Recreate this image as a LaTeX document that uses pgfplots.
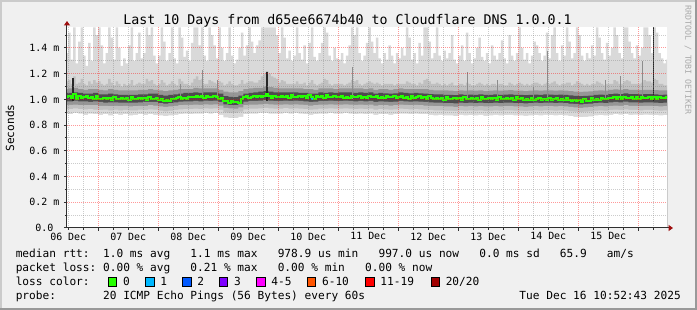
\documentclass[border=0pt]{standalone}
\usepackage{fontspec}
\setmainfont{DejaVu Sans Mono}
\usepackage{pgfplots}
\usepackage{pgfplotstable}
\pgfplotsset{compat=1.18}
\usetikzlibrary{arrows.meta}
\definecolor{bg}{HTML}{F0F0F0}
\definecolor{shadea}{HTML}{CBCBCB}
\definecolor{shadeb}{HTML}{999999}
\definecolor{axiscol}{HTML}{303030}
\definecolor{arrowred}{HTML}{A01010}
\definecolor{sA}{HTML}{D9D9D9}
\definecolor{sB}{HTML}{C0C0C0}
\definecolor{sC}{HTML}{969696}
\definecolor{sD}{HTML}{4D4D4D}
\definecolor{medgreen}{HTML}{26FF00}
\definecolor{lA}{HTML}{00B8FF}
\definecolor{lB}{HTML}{0059FF}
\definecolor{lC}{HTML}{7E00FF}
\definecolor{lD}{HTML}{FF00FF}
\definecolor{lE}{HTML}{FF5500}
\definecolor{lF}{HTML}{FF0000}
\definecolor{lG}{HTML}{A10000}
\definecolor{wm}{HTML}{AAAAAA}

% hourly: upper light smoke, upper mid smoke, median (ms)
\pgfplotstableread{
h hi0 hi1 med
11 1.36 1.14 1.015
12 1.52 1.15 1.023
13 1.31 1.12 1.010
14 1.56 1.18 1.04
15 1.28 1.12 1.007
16 1.45 1.13 1.025
17 1.56 1.16 1.012
18 1.34 1.12 1.015
19 1.26 1.11 1.023
20 1.44 1.14 1.010
21 1.30 1.12 1.019
22 1.56 1.15 1.007
23 1.50 1.13 1.025
24 1.56 1.14 1.002
25 1.42 1.12 1.005
26 1.28 1.11 1.013
27 1.36 1.12 1.000
28 1.56 1.16 1.009
29 1.48 1.13 0.997
30 1.31 1.11 1.015
31 1.56 1.14 1.002
32 1.40 1.12 1.005
33 1.26 1.10 1.013
34 1.32 1.12 1.000
35 1.28 1.11 1.009
36 1.42 1.12 0.997
37 1.56 1.15 1.015
38 1.30 1.11 1.002
39 1.36 1.12 1.005
40 1.52 1.13 1.013
41 1.32 1.12 1.000
42 1.36 1.12 1.009
43 1.56 1.16 0.997
44 1.50 1.14 1.015
45 1.56 1.15 1.002
46 1.34 1.12 1.005
47 1.28 1.11 1.013
48 1.34 1.12 0.995
49 1.56 1.15 1.003
50 1.45 1.13 0.990
51 1.30 1.11 0.999
52 1.36 1.12 0.987
53 1.56 1.14 1.005
54 1.32 1.12 1.007
55 1.28 1.11 1.010
56 1.56 1.16 1.018
57 1.48 1.14 1.005
58 1.33 1.12 1.014
59 1.38 1.12 1.002
60 1.30 1.11 1.020
61 1.44 1.13 1.017
62 1.56 1.16 1.020
63 1.56 1.18 1.028
64 1.42 1.15 1.015
65 1.56 1.16 1.024
66 1.34 1.12 1.012
67 1.30 1.12 1.030
68 1.56 1.15 1.017
69 1.50 1.14 1.020
70 1.42 1.13 1.028
71 1.32 1.12 1.015
72 1.56 1.14 1.005
73 1.40 1.13 1.013
74 1.30 1.11 0.990
75 1.36 1.12 0.984
76 1.56 1.14 0.972
77 1.34 1.12 0.985
78 1.28 1.11 0.977
79 1.31 1.11 0.983
80 1.40 1.12 0.976
81 1.52 1.15 1.000
82 1.34 1.12 1.015
83 1.42 1.13 1.024
84 1.56 1.14 1.012
85 1.45 1.14 1.020
86 1.36 1.13 1.028
87 1.42 1.13 1.015
88 1.46 1.15 1.024
89 1.56 1.18 1.020
90 1.56 1.20 1.028
91 1.56 1.22 1.045
92 1.56 1.20 1.024
93 1.56 1.18 1.012
94 1.56 1.17 1.030
95 1.50 1.16 1.017
96 1.36 1.13 1.022
97 1.56 1.15 1.030
98 1.48 1.14 1.017
99 1.32 1.12 1.026
100 1.38 1.12 1.014
101 1.30 1.12 1.032
102 1.34 1.12 1.019
103 1.56 1.14 1.022
104 1.36 1.12 1.030
105 1.31 1.12 1.017
106 1.42 1.13 1.026
107 1.28 1.11 1.014
108 1.44 1.13 1.032
109 1.56 1.15 1.019
110 1.33 1.12 1.005
111 1.30 1.11 1.030
112 1.36 1.12 1.017
113 1.44 1.13 1.026
114 1.56 1.16 1.014
115 1.52 1.15 1.032
116 1.34 1.12 1.019
117 1.30 1.11 1.022
118 1.40 1.12 1.030
119 1.32 1.12 1.017
120 1.31 1.12 1.018
121 1.36 1.12 1.026
122 1.28 1.11 1.013
123 1.34 1.12 1.022
124 1.42 1.13 1.010
125 1.56 1.15 1.028
126 1.50 1.14 1.015
127 1.56 1.15 1.018
128 1.36 1.12 1.026
129 1.30 1.11 1.013
130 1.34 1.12 1.022
131 1.44 1.13 1.010
132 1.56 1.14 1.028
133 1.45 1.13 1.015
134 1.36 1.12 1.018
135 1.48 1.13 1.026
136 1.32 1.12 1.013
137 1.28 1.11 1.022
138 1.36 1.12 1.010
139 1.31 1.12 1.028
140 1.42 1.12 1.015
141 1.34 1.12 1.018
142 1.28 1.11 1.026
143 1.36 1.12 1.013
144 1.32 1.12 1.015
145 1.40 1.12 1.023
146 1.34 1.12 1.010
147 1.56 1.14 1.019
148 1.48 1.13 1.007
149 1.31 1.12 1.025
150 1.36 1.12 1.012
151 1.28 1.11 1.015
152 1.44 1.13 1.023
153 1.34 1.12 1.010
154 1.56 1.15 1.019
155 1.56 1.16 1.007
156 1.45 1.14 1.025
157 1.32 1.12 1.012
158 1.36 1.12 1.005
159 1.56 1.13 1.013
160 1.34 1.12 1.000
161 1.30 1.11 1.009
162 1.38 1.12 0.997
163 1.32 1.11 1.015
164 1.36 1.12 1.002
165 1.50 1.13 1.005
166 1.31 1.11 1.013
167 1.28 1.11 1.000
168 1.34 1.12 1.009
169 1.42 1.12 0.997
170 1.30 1.11 1.015
171 1.52 1.13 1.002
172 1.36 1.12 1.005
173 1.28 1.11 1.013
174 1.32 1.11 1.000
175 1.40 1.12 1.009
176 1.48 1.13 0.997
177 1.33 1.12 1.015
178 1.30 1.11 1.002
179 1.36 1.12 1.005
180 1.28 1.11 1.013
181 1.42 1.12 1.000
182 1.34 1.12 1.009
183 1.31 1.11 0.997
184 1.36 1.12 1.015
185 1.46 1.12 1.002
186 1.32 1.11 1.005
187 1.28 1.11 1.013
188 1.50 1.13 1.000
189 1.34 1.12 1.009
190 1.30 1.11 0.997
191 1.36 1.12 1.015
192 1.56 1.13 1.000
193 1.40 1.12 1.008
194 1.31 1.11 0.995
195 1.36 1.12 1.004
196 1.28 1.11 0.992
197 1.34 1.12 1.010
198 1.45 1.13 0.997
199 1.42 1.13 1.000
200 1.36 1.12 1.008
201 1.30 1.11 0.995
202 1.34 1.12 1.004
203 1.52 1.13 0.992
204 1.32 1.12 1.010
205 1.50 1.13 0.997
206 1.56 1.14 1.000
207 1.36 1.12 1.008
208 1.30 1.11 0.995
209 1.42 1.12 1.004
210 1.34 1.12 0.992
211 1.56 1.13 1.010
212 1.45 1.13 0.997
213 1.32 1.11 0.990
214 1.36 1.12 0.998
215 1.56 1.14 0.985
216 1.50 1.13 0.994
217 1.34 1.12 0.982
218 1.30 1.11 1.000
219 1.36 1.12 0.987
220 1.32 1.11 0.990
221 1.42 1.12 1.011
222 1.34 1.12 0.998
223 1.56 1.14 1.007
224 1.48 1.13 0.995
225 1.36 1.12 1.013
226 1.31 1.11 1.000
227 1.44 1.12 1.003
228 1.34 1.12 1.011
229 1.40 1.12 1.012
230 1.56 1.15 1.020
231 1.50 1.14 1.007
232 1.36 1.12 1.016
233 1.32 1.12 1.004
234 1.56 1.14 1.022
235 1.56 1.15 1.009
236 1.45 1.14 1.012
237 1.36 1.12 1.020
238 1.32 1.12 1.007
239 1.42 1.12 1.016
240 1.34 1.12 1.004
241 1.40 1.13 1.022
242 1.56 1.15 1.009
243 1.56 1.14 1.012
244 1.50 1.14 1.020
245 1.36 1.13 1.007
246 1.56 1.16 1.016
247 1.52 1.15 1.004
248 1.36 1.12 1.022
249 1.32 1.12 1.009
250 1.28 1.11 1.012
251 1.31 1.11 1.020
252 1.31 1.11 1.020
}\Thour

% two-hourly: lower bounds and inner smoke bands
\pgfplotstableread{
h lo0 lo1 lo2 hi2 lo3 hi3
10 0.89 0.925 0.955 1.08 0.985 1.05
12 0.885 0.925 0.958 1.085 0.985 1.05
14 0.895 0.93 0.96 1.09 0.99 1.055
16 0.89 0.925 0.955 1.08 0.985 1.05
18 0.88 0.922 0.955 1.075 0.985 1.045
20 0.89 0.925 0.955 1.08 0.98 1.045
22 0.885 0.92 0.955 1.08 0.985 1.05
24 0.88 0.918 0.95 1.075 0.98 1.04
26 0.885 0.92 0.95 1.07 0.975 1.04
28 0.875 0.915 0.948 1.08 0.978 1.045
30 0.885 0.92 0.95 1.075 0.978 1.04
32 0.88 0.915 0.948 1.07 0.975 1.035
34 0.885 0.918 0.95 1.07 0.975 1.035
36 0.875 0.915 0.945 1.07 0.975 1.035
38 0.88 0.915 0.948 1.07 0.975 1.035
40 0.885 0.92 0.95 1.075 0.978 1.04
42 0.88 0.918 0.95 1.075 0.98 1.04
44 0.885 0.922 0.955 1.08 0.98 1.045
46 0.88 0.92 0.952 1.075 0.98 1.045
48 0.875 0.912 0.945 1.07 0.972 1.035
50 0.87 0.908 0.942 1.065 0.968 1.03
52 0.875 0.912 0.945 1.07 0.972 1.035
54 0.88 0.918 0.95 1.075 0.978 1.04
56 0.885 0.922 0.955 1.08 0.982 1.045
58 0.89 0.925 0.958 1.08 0.985 1.05
60 0.885 0.925 0.958 1.08 0.985 1.05
62 0.89 0.928 0.96 1.09 0.988 1.055
64 0.89 0.925 0.958 1.085 0.985 1.05
66 0.895 0.93 0.962 1.085 0.99 1.055
68 0.89 0.928 0.96 1.085 0.988 1.055
70 0.895 0.93 0.962 1.085 0.99 1.055
72 0.88 0.92 0.952 1.075 0.98 1.045
74 0.86 0.9 0.935 1.06 0.962 1.025
76 0.855 0.895 0.93 1.055 0.955 1.02
78 0.855 0.895 0.928 1.055 0.955 1.018
80 0.865 0.905 0.938 1.065 0.965 1.03
82 0.885 0.922 0.955 1.08 0.982 1.045
84 0.89 0.928 0.96 1.085 0.988 1.05
86 0.89 0.928 0.96 1.09 0.988 1.055
88 0.895 0.93 0.962 1.09 0.99 1.06
90 0.895 0.935 0.965 1.1 0.995 1.065
92 0.89 0.93 0.962 1.095 0.99 1.06
94 0.89 0.928 0.96 1.09 0.988 1.055
96 0.89 0.928 0.96 1.085 0.988 1.055
98 0.895 0.932 0.962 1.085 0.99 1.055
100 0.89 0.928 0.96 1.085 0.988 1.055
102 0.895 0.93 0.962 1.085 0.99 1.055
104 0.89 0.928 0.96 1.085 0.988 1.05
106 0.885 0.925 0.958 1.08 0.985 1.05
108 0.88 0.92 0.952 1.08 0.98 1.045
110 0.885 0.922 0.955 1.075 0.982 1.045
112 0.89 0.928 0.96 1.085 0.988 1.055
114 0.89 0.928 0.96 1.085 0.988 1.05
116 0.895 0.93 0.962 1.085 0.99 1.055
118 0.89 0.928 0.96 1.08 0.988 1.05
120 0.89 0.928 0.96 1.085 0.988 1.055
122 0.895 0.93 0.962 1.085 0.99 1.055
124 0.89 0.928 0.96 1.085 0.988 1.055
126 0.885 0.925 0.958 1.085 0.985 1.05
128 0.89 0.928 0.96 1.085 0.988 1.055
130 0.885 0.925 0.958 1.08 0.985 1.05
132 0.89 0.928 0.96 1.085 0.988 1.055
134 0.88 0.92 0.952 1.075 0.98 1.045
136 0.885 0.925 0.955 1.08 0.985 1.05
138 0.885 0.922 0.955 1.08 0.983 1.048
140 0.88 0.92 0.952 1.075 0.98 1.045
142 0.885 0.922 0.955 1.08 0.982 1.048
144 0.89 0.928 0.96 1.085 0.988 1.055
146 0.89 0.925 0.958 1.08 0.985 1.05
148 0.885 0.922 0.955 1.08 0.982 1.048
150 0.89 0.925 0.958 1.08 0.985 1.05
152 0.885 0.922 0.955 1.08 0.982 1.048
154 0.885 0.92 0.952 1.08 0.98 1.045
156 0.88 0.918 0.95 1.075 0.978 1.042
158 0.875 0.915 0.948 1.07 0.975 1.04
160 0.88 0.915 0.948 1.07 0.975 1.04
162 0.875 0.912 0.945 1.07 0.972 1.035
164 0.875 0.912 0.945 1.068 0.972 1.035
166 0.87 0.91 0.942 1.065 0.97 1.033
168 0.88 0.915 0.948 1.07 0.975 1.04
170 0.875 0.912 0.945 1.068 0.972 1.035
172 0.878 0.915 0.948 1.07 0.975 1.038
174 0.875 0.912 0.945 1.068 0.972 1.035
176 0.88 0.915 0.948 1.07 0.975 1.04
178 0.872 0.91 0.945 1.065 0.972 1.035
180 0.875 0.912 0.945 1.068 0.972 1.035
182 0.88 0.915 0.948 1.07 0.975 1.04
184 0.875 0.912 0.945 1.068 0.972 1.035
186 0.878 0.915 0.948 1.07 0.975 1.038
188 0.88 0.915 0.948 1.072 0.975 1.04
190 0.875 0.912 0.945 1.068 0.972 1.035
192 0.875 0.912 0.945 1.068 0.972 1.035
194 0.872 0.91 0.942 1.065 0.97 1.033
196 0.875 0.912 0.945 1.068 0.972 1.035
198 0.878 0.915 0.948 1.07 0.975 1.038
200 0.875 0.912 0.945 1.068 0.972 1.035
202 0.88 0.915 0.948 1.07 0.975 1.04
204 0.878 0.915 0.948 1.07 0.975 1.038
206 0.875 0.912 0.945 1.068 0.972 1.035
208 0.878 0.915 0.948 1.07 0.975 1.038
210 0.875 0.912 0.945 1.068 0.972 1.035
212 0.87 0.908 0.942 1.065 0.968 1.032
214 0.865 0.905 0.938 1.06 0.965 1.028
216 0.862 0.902 0.935 1.058 0.962 1.025
218 0.865 0.905 0.938 1.06 0.965 1.028
220 0.868 0.908 0.94 1.062 0.968 1.03
222 0.875 0.912 0.945 1.068 0.972 1.035
224 0.878 0.915 0.948 1.07 0.975 1.038
226 0.875 0.912 0.945 1.068 0.972 1.035
228 0.88 0.918 0.95 1.075 0.978 1.042
230 0.885 0.92 0.952 1.078 0.98 1.045
232 0.882 0.918 0.95 1.075 0.978 1.042
234 0.885 0.922 0.955 1.08 0.982 1.048
236 0.88 0.918 0.95 1.075 0.978 1.042
238 0.882 0.918 0.95 1.075 0.978 1.042
240 0.878 0.915 0.948 1.072 0.975 1.04
242 0.882 0.918 0.95 1.075 0.978 1.042
244 0.88 0.918 0.95 1.075 0.978 1.042
246 0.878 0.915 0.948 1.072 0.975 1.04
248 0.875 0.912 0.945 1.07 0.972 1.035
250 0.878 0.915 0.948 1.07 0.975 1.038
252 0.878 0.915 0.948 1.07 0.975 1.038
}\Ttwo

\begin{document}
\begin{tikzpicture}
% canvas and frame
\fill[bg] (-50.25pt,-61.5pt) rectangle (472.5pt,171pt);
\fill[shadea] (-50.25pt,169.5pt) rectangle (472.5pt,171pt);
\fill[shadea] (-50.25pt,-61.5pt) rectangle (-48.75pt,171pt);
\fill[shadeb] (-50.25pt,-61.5pt) rectangle (472.5pt,-60pt);
\fill[shadeb] (471pt,-61.5pt) rectangle (472.5pt,171pt);
\path[use as bounding box] (-50.25pt,-61.5pt) rectangle (472.5pt,171pt);

\begin{axis}[
  at={(0pt,0pt)}, anchor=south west,
  scale only axis, width=450pt, height=150.75pt,
  xmin=11.5, xmax=251.5, ymin=0, ymax=1.5633,
  axis lines=left,
  axis line style={draw=axiscol, line width=0.75pt, shorten >=-4.5pt,
     -{Triangle[length=3.3pt,width=4.5pt,color=arrowred]}},
  axis background/.style={fill=white},
  axis on top,
  grid=both,
  major grid style={draw=red, opacity=0.4, line width=0.75pt, dash pattern=on 0.75pt off 0.75pt},
  minor grid style={draw=gray, opacity=0.4, line width=0.75pt, dash pattern=on 0.75pt off 0.75pt},
  tick align=outside,
  major tick length=2.25pt, minor tick length=1.5pt,
  tick style={draw=axiscol, line width=0.75pt},
  xtick={24,48,72,96,120,144,168,192,216,240},
  xticklabels={},
  minor xtick={12,18,30,36,42,54,60,66,78,84,90,102,108,114,126,132,138,150,156,162,174,180,186,198,204,210,222,228,234,246},
  extra x ticks={12,36,60,84,108,132,156,180,204,228},
  extra x tick labels={06 Dec,07 Dec,08 Dec,09 Dec,10 Dec,11 Dec,12 Dec,13 Dec,14 Dec,15 Dec},
  extra x tick style={grid=none, major tick length=0pt},
  ytick={0,0.2,0.4,0.6,0.8,1.0,1.2,1.4},
  yticklabels={0.0~~,0.2~m,0.4~m,0.6~m,0.8~m,1.0~m,1.2~m,1.4~m},
  minor ytick={0.1,0.3,0.5,0.7,0.9,1.1,1.3,1.5},
  tick label style={font=\fontsize{7.47}{8}\selectfont, text=black},
]
% smoke: upper edges filled down, then lower edges painted lighter
\addplot[fill=sA, draw=none, const plot mark left] table[x=h, y=hi0] {\Thour} \closedcycle;
\addplot[fill=sB, draw=none, const plot mark left] table[x=h, y=hi1] {\Thour} \closedcycle;
\addplot[fill=sC, draw=none, const plot mark left] table[x=h, y=hi2] {\Ttwo} \closedcycle;
\addplot[fill=sD, draw=none, const plot mark left] table[x=h, y=hi3] {\Ttwo} \closedcycle;
\addplot[fill=sC, draw=none, const plot mark left] table[x=h, y=lo3] {\Ttwo} \closedcycle;
\addplot[fill=sB, draw=none, const plot mark left] table[x=h, y=lo2] {\Ttwo} \closedcycle;
\addplot[fill=sA, draw=none, const plot mark left] table[x=h, y=lo1] {\Ttwo} \closedcycle;
\addplot[fill=white, draw=none, const plot mark left] table[x=h, y=lo0] {\Ttwo} \closedcycle;
% medium spikes
\addplot[draw=black!45, line width=0.6pt, unbounded coords=jump] coordinates {
 (56.7,1.0) (56.7,1.12) (56.7,nan)
 (65.5,1.0) (65.5,1.23) (65.5,nan)
 (71.5,1.0) (71.5,1.15) (71.5,nan)
 (125.5,1.0) (125.5,1.25) (125.5,nan)
 (171.5,1.0) (171.5,1.21) (171.5,nan)
 (183.5,1.0) (183.5,1.15) (183.5,nan)
 (197.9,1.0) (197.9,1.10) (197.9,nan)
 (203.5,1.0) (203.5,1.38) (203.5,nan)
 (226.7,1.0) (226.7,1.15) (226.7,nan)
 (232.7,1.0) (232.7,1.18) (232.7,nan)
 (241.5,1.0) (241.5,1.30)
};
% dark spikes
\addplot[draw=black!85, line width=0.9pt, unbounded coords=jump] coordinates {
 (13.9,0.99) (13.9,1.17) (13.9,nan)
 (91.5,0.99) (91.5,1.21) (91.5,nan)
 (246.2,0.98) (246.2,1.56)
};
% median
\addplot[draw=medgreen, line width=1.5pt, const plot mark left] table[x=h, y=med] {\Thour};
\addplot[draw=lA, line width=1.5pt] coordinates {(109.2,1.005) (110,1.005)};
\end{axis}

% title
\node[anchor=base, inner sep=0pt, font=\fontsize{9.97}{12}\selectfont] at (210.4pt,152.6pt)
  {Last 10 Days from d65ee6674b40 to Cloudflare DNS 1.0.0.1};
% y label
\node[rotate=90, inner sep=0pt, font=\fontsize{8.37}{10}\selectfont] at (-42.75pt,75pt) {Seconds};
% watermark
\node[rotate=-90, inner sep=0pt, text=wm, font=\fontsize{6.2}{7}\selectfont] at (465.75pt,126pt) {RRDTOOL / TOBI OETIKER};
% legend
\begin{scope}[every node/.style={inner sep=0pt, anchor=base west, font=\fontsize{8.37}{10}\selectfont}]
\node at (-38.625pt,-22.5pt) {median~rtt:~~1.0~ms~avg~~~1.1~ms~max~~~978.9~us~min~~~997.0~us~now~~~0.0~ms~sd~~~65.9~~~am/s};
\node at (-38.625pt,-32.775pt) {packet~loss:~0.00~\%~avg~~~0.21~\%~max~~~0.00~\%~min~~~0.00~\%~now};
\node at (-38.625pt,-43.05pt) {loss~color:};
\node at (-38.625pt,-53.325pt) {probe:~~~~~~~20~ICMP~Echo~Pings~(56~Bytes)~every~60s};
\node[anchor=base east] at (460.5pt,-53.325pt) {Tue~Dec~16~10:52:43~2025};
\node at (41.85pt,-43.05pt) {0};
\node at (69.9pt,-43.05pt) {1};
\node at (97.65pt,-43.05pt) {2};
\node at (125.1pt,-43.05pt) {3};
\node at (153.15pt,-43.05pt) {4-5};
\node at (191.1pt,-43.05pt) {6-10};
\node at (234.9pt,-43.05pt) {11-19};
\node at (283.875pt,-43.05pt) {20/20};
\end{scope}
\begin{scope}[line width=0.75pt]
\filldraw[fill=medgreen, draw=black] (30.975pt,-43.65pt) rectangle ++(6.3pt,6.3pt);
\filldraw[fill=lA, draw=black] (59.025pt,-43.65pt) rectangle ++(6.3pt,6.3pt);
\filldraw[fill=lB, draw=black] (86.775pt,-43.65pt) rectangle ++(6.3pt,6.3pt);
\filldraw[fill=lC, draw=black] (114.225pt,-43.65pt) rectangle ++(6.3pt,6.3pt);
\filldraw[fill=lD, draw=black] (142.275pt,-43.65pt) rectangle ++(6.3pt,6.3pt);
\filldraw[fill=lE, draw=black] (180.225pt,-43.65pt) rectangle ++(6.3pt,6.3pt);
\filldraw[fill=lF, draw=black] (224.025pt,-43.65pt) rectangle ++(6.3pt,6.3pt);
\filldraw[fill=lG, draw=black] (273pt,-43.65pt) rectangle ++(6.3pt,6.3pt);
\end{scope}
\end{tikzpicture}
\end{document}
